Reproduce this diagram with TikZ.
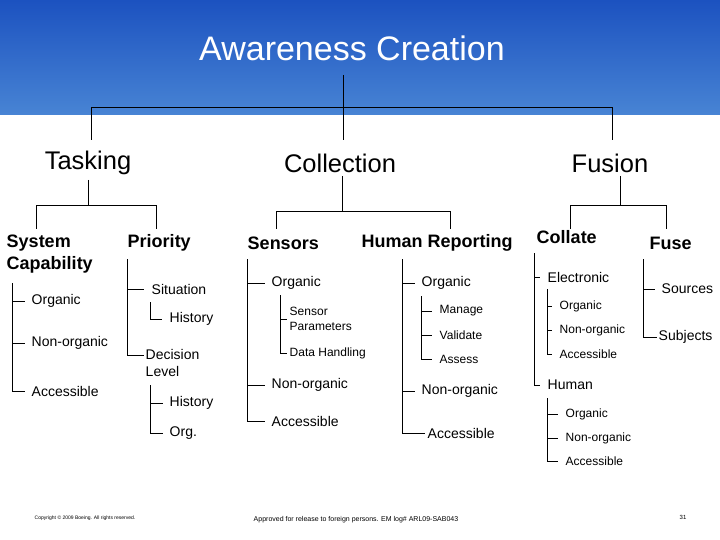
\documentclass[tikz,border=0pt]{standalone}
\usepackage{fontspec}
\setmainfont{Liberation Sans}
\definecolor{htop}{RGB}{28,82,192}
\definecolor{hbot}{RGB}{72,132,212}
\begin{document}
\begin{tikzpicture}[x=1pt,y=-1pt,line width=0.8pt,
 l1/.style={font=\fontsize{25.5}{28}\selectfont},
 l2/.style={font=\fontsize{18}{22}\selectfont\bfseries,anchor=west,align=left},
 l3/.style={font=\fontsize{14}{17}\selectfont,anchor=west,align=left},
 l4/.style={font=\fontsize{12}{15}\selectfont,anchor=west,align=left},
 ln/.style={draw,line width=0.7pt}]
\useasboundingbox (0,0) rectangle (720,540);
\shade[top color=htop, bottom color=hbot] (0,0) rectangle (720,115);
\fill[white] (0,115) rectangle (720,540);
\node[font=\fontsize{34}{36}\selectfont,text=white] (title) at (352,48) {Awareness Creation};
% top level
\coordinate (t0) at (343,75);
\draw[ln] (t0) -- (343,107) (91,140) -- (91,107) -- (612,107) -- (612,140) (343,107) -- (343,140);
\node[l1] (task) at (88,163) {Tasking};
\node[l1] (coll) at (340,163) {Collection};
\node[l1] (fus) at (610,163) {Fusion};
% Tasking
\draw[ln] (88,180) -- (88,205) (36,229) -- (36,205) -- (156,205) -- (156,229);
\node[l2] (sc) at (3,254) {System\\Capability};
\node[l2] (pri) at (124,243) {Priority};
\draw[ln] (12,283) -- (12,391) -- (25,391) (12,301) -- (25,301) (12,343) -- (25,343);
\node[l3] (a1) at (28,301) {Organic};
\node[l3] (a2) at (28,343) {Non-organic};
\node[l3] (a3) at (28,391) {Accessible};
\draw[ln] (127,259) -- (127,355) -- (144,355) (127,289) -- (144,289);
\node[l3] (b1) at (148,289) {Situation};
\draw[ln] (150,302) -- (150,319) -- (162,319);
\node[l3] (b2) at (166,319) {History};
\node[l3] (b3) at (142,363) {Decision\\Level};
\draw[ln] (150,385) -- (150,433) -- (163,433) (150,403) -- (163,403);
\node[l3] (b4) at (166,403) {History};
\node[l3] (b5) at (166,433) {Org.};
% Collection
\draw[ln] (342,176) -- (342,211) (276,229) -- (276,211) -- (450,211) -- (450,229);
\node[l2] (sen) at (244,243) {Sensors};
\node[l2] (hr) at (358,243) {Human Reporting};
\draw[ln] (247,259) -- (247,421) -- (265,421) (247,283) -- (265,283) (247,385) -- (265,385);
\node[l3] (c1) at (268,283) {Organic};
\node[l3] (c4) at (268,385) {Non-organic};
\node[l3] (c5) at (268,421) {Accessible};
\draw[ln] (280,295) -- (280,353) -- (287,353) (280,319) -- (287,319);
\node[l4] (c2) at (286,319) {Sensor\\Parameters};
\node[l4] (c3) at (286,353) {Data Handling};
\draw[ln] (402,259) -- (402,433) -- (425,433) (402,283) -- (415,283) (402,391) -- (415,391);
\node[l3] (d1) at (418,283) {Organic};
\node[l3] (d5) at (418,391) {Non-organic};
\node[l3] (d6) at (424,433) {Accessible};
\draw[ln] (421,296) -- (421,359) -- (432,359) (421,311) -- (432,311) (421,335) -- (432,335);
\node[l4] (d2) at (436,311) {Manage};
\node[l4] (d3) at (436,335) {Validate};
\node[l4] (d4) at (436,359) {Assess};
% Fusion
\draw[ln] (620,176) -- (620,205) (570,229) -- (570,205) -- (666,205) -- (666,229);
\node[l2] (col) at (533,237) {Collate};
\node[l2] (fuse) at (646,243) {Fuse};
\draw[ln] (534,253) -- (534,385) -- (540,385) (534,277) -- (540,277);
\node[l3] (e1) at (544,277) {Electronic};
\node[l3] (e5) at (544,385) {Human};
\draw[ln] (547,289) -- (547,354) -- (552,354) (547,306) -- (552,306) (547,330) -- (552,330);
\node[l4] (e2) at (556,306) {Organic};
\node[l4] (e3) at (556,330) {Non-organic};
\node[l4] (e4) at (556,354) {Accessible};
\draw[ln] (547,398) -- (547,461) -- (558,461) (547,414) -- (558,414) (547,438) -- (558,438);
\node[l4] (f1) at (562,414) {Organic};
\node[l4] (f2) at (562,438) {Non-organic};
\node[l4] (f3) at (562,461) {Accessible};
\draw[ln] (643,259) -- (643,337) -- (657,337) (643,289) -- (655,289);
\node[l3] (g1) at (658,289) {Sources};
\node[l3] (g2) at (655,337) {Subjects};
% footer
\node[font=\fontsize{5}{6}\selectfont,anchor=west] (cp) at (31,518) {Copyright © 2009 Boeing. All rights reserved.};
\node[font=\fontsize{7}{8}\selectfont] (ap) at (356,520) {Approved for release to foreign persons. EM log\# ARL09-SAB043};
\node[font=\fontsize{6}{7}\selectfont] (pg) at (683,517) {31};
\end{tikzpicture}
\end{document}
